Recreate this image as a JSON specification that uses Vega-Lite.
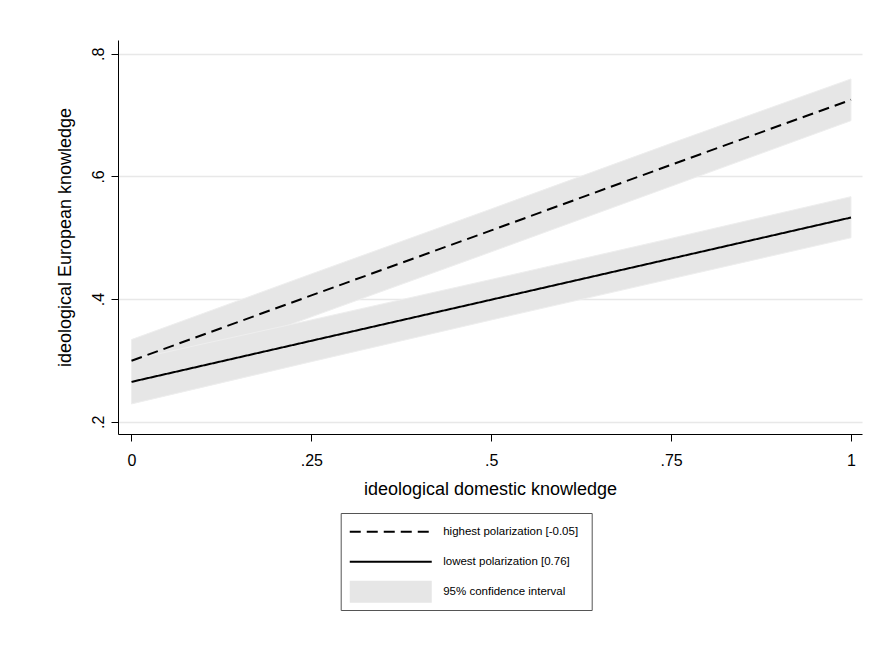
{
  "$schema": "https://vega.github.io/schema/vega-lite/v6.json",
  "width": 744,
  "height": 394,
  "autosize": {"type": "none"},
  "padding": {"left": 118, "top": 40, "right": 32, "bottom": 216},
  "background": "white",
  "config": {"view": {"stroke": null}, "font": "Liberation Sans"},
  "data": {
    "values": [
      {"x": 0, "series": "highest polarization [-0.05]", "fit": 0.2995, "lo": 0.265, "hi": 0.334},
      {"x": 0.25, "series": "highest polarization [-0.05]", "fit": 0.406, "lo": 0.371, "hi": 0.441},
      {"x": 0.5, "series": "highest polarization [-0.05]", "fit": 0.512, "lo": 0.477, "hi": 0.547},
      {"x": 0.75, "series": "highest polarization [-0.05]", "fit": 0.619, "lo": 0.584, "hi": 0.654},
      {"x": 1, "series": "highest polarization [-0.05]", "fit": 0.725, "lo": 0.691, "hi": 0.759},
      {"x": 0, "series": "lowest polarization [0.76]", "fit": 0.265, "lo": 0.229, "hi": 0.301},
      {"x": 0.25, "series": "lowest polarization [0.76]", "fit": 0.332, "lo": 0.298, "hi": 0.366},
      {"x": 0.5, "series": "lowest polarization [0.76]", "fit": 0.399, "lo": 0.366, "hi": 0.432},
      {"x": 0.75, "series": "lowest polarization [0.76]", "fit": 0.466, "lo": 0.433, "hi": 0.499},
      {"x": 1, "series": "lowest polarization [0.76]", "fit": 0.533, "lo": 0.5, "hi": 0.567}
    ]
  },
  "layer": [
    {
      "mark": {"type": "area", "stroke": "#eeeeee", "strokeWidth": 1, "opacity": 1},
      "encoding": {
        "x": {
          "field": "x", "type": "quantitative",
          "scale": {"domain": [-0.01876, 1.0153], "nice": false, "zero": false},
          "axis": {
            "values": [0, 0.25, 0.5, 0.75, 1],
            "labelExpr": "replace(toString(datum.value), /^0\\./, '.')",
            "title": "ideological domestic knowledge",
            "grid": false,
            "domainColor": "black", "domainWidth": 1,
            "tickColor": "black", "tickSize": 7, "tickWidth": 1,
            "labelFontSize": 16, "labelColor": "black", "labelPadding": 11, "labelFont": "Liberation Sans",
            "titleFontSize": 18, "titleFontWeight": "normal", "titleColor": "black", "titlePadding": 12, "titleFont": "Liberation Sans"
          }
        },
        "y": {
          "field": "lo", "type": "quantitative",
          "scale": {"domain": [0.18, 0.8225], "nice": false, "zero": false},
          "axis": {
            "values": [0.2, 0.4, 0.6, 0.8],
            "labelExpr": "replace(toString(datum.value), /^0\\./, '.')",
            "title": "ideological European knowledge",
            "grid": true, "gridColor": "#e8e8e8", "gridWidth": 1.5,
            "domainColor": "black", "domainWidth": 1,
            "tickColor": "black", "tickSize": 7, "tickWidth": 1,
            "labelAngle": -90, "labelAlign": "center", "labelBaseline": "bottom",
            "labelFontSize": 16, "labelColor": "black", "labelPadding": 5, "labelFont": "Liberation Sans",
            "titleFontSize": 18, "titleFontWeight": "normal", "titleColor": "black", "titlePadding": 16, "titleFont": "Liberation Sans"
          }
        },
        "y2": {"field": "hi"},
        "detail": {"field": "series"},
        "fill": {
          "datum": "95% confidence interval", "type": "nominal",
          "scale": {"domain": ["95% confidence interval"], "range": ["#e6e6e6"]},
          "legend": {
            "title": null,
            "orient": "none",
            "legendX": 235.7,
            "legendY": 546,
            "strokeColor": null,
            "fillColor": null,
            "padding": 0,
            "labelFontSize": 11.5,
            "labelFont": "Liberation Sans",
            "labelColor": "black",
            "labelOffset": 78,
            "labelLimit": 300,
            "symbolType": "M-4.85,-5.5H36.15V5.5H-4.85Z",
            "symbolSize": 16,
            "symbolStrokeWidth": 0,
            "symbolOpacity": 1
          }
        }
      }
    },
    {
      "mark": {"type": "line", "color": "black", "strokeWidth": 2},
      "encoding": {
        "x": {"field": "x", "type": "quantitative"},
        "y": {"field": "fit", "type": "quantitative"},
        "strokeDash": {
          "field": "series", "type": "nominal",
          "scale": {
            "domain": ["highest polarization [-0.05]", "lowest polarization [0.76]"],
            "range": [[11, 6], [1, 0]]
          },
          "legend": {
            "title": " ",
            "titleOrient": "bottom",
            "titleFontSize": 14,
            "titlePadding": 16,
            "orient": "none",
            "legendX": 222.7,
            "legendY": 473,
            "strokeColor": "#555555",
            "fillColor": null,
            "padding": 13,
            "labelFontSize": 11.5,
            "labelFont": "Liberation Sans",
            "labelColor": "black",
            "labelOffset": 78,
            "labelLimit": 300,
            "rowPadding": 17,
            "symbolType": "M-4.85,0H36.15",
            "symbolSize": 16,
            "symbolStrokeWidth": 2,
            "symbolStrokeColor": "black"
          }
        }
      }
    }
  ]
}
